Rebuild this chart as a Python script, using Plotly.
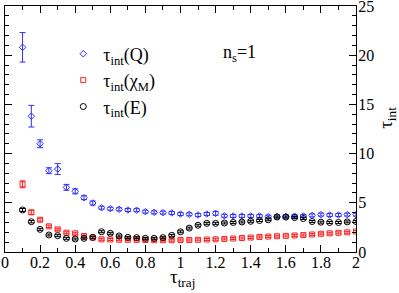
import plotly.graph_objects as go

tau_traj = [round(0.1 + 0.05 * i, 2) for i in range(39)]

tau_Q = [20.8, 13.8, 11.0, 8.26, 8.43, 6.57, 6.17, 5.52, 4.98, 4.50,
         4.40, 4.34, 4.27, 4.25, 4.10, 4.03, 4.00, 3.97, 3.86, 3.83,
         3.76, 3.86, 3.93, 3.68, 3.66, 3.66, 3.66, 3.66, 3.59, 3.62,
         3.62, 3.64, 3.66, 3.72, 3.80, 3.76, 3.76, 3.80, 3.80]
err_Q = [1.5, 1.1, 0.4, 0.3, 0.55, 0.3, 0.25, 0.2, 0.2, 0.15,
         0.15, 0.15, 0.15, 0.15, 0.15, 0.15, 0.15, 0.15, 0.15, 0.15,
         0.15, 0.15, 0.2, 0.15, 0.15, 0.15, 0.15, 0.15, 0.15, 0.15,
         0.15, 0.15, 0.15, 0.15, 0.15, 0.15, 0.15, 0.15, 0.15]

tau_chi = [6.88, 4.03, 3.28, 2.61, 2.30, 1.96, 1.90, 1.63, 1.46, 1.29,
           1.27, 1.25, 1.24, 1.23, 1.22, 1.20, 1.20, 1.20, 1.22, 1.22,
           1.24, 1.27, 1.29, 1.33, 1.37, 1.42, 1.47, 1.53, 1.57, 1.60,
           1.64, 1.68, 1.72, 1.78, 1.85, 1.90, 1.95, 2.00, 2.08]
err_chi = [0.35, 0.2, 0.15, 0.12, 0.1, 0.1, 0.1, 0.1, 0.1, 0.1,
           0.1, 0.1, 0.1, 0.1, 0.1, 0.1, 0.1, 0.1, 0.1, 0.1,
           0.1, 0.1, 0.1, 0.1, 0.1, 0.1, 0.1, 0.1, 0.1, 0.1,
           0.1, 0.1, 0.1, 0.1, 0.1, 0.1, 0.1, 0.1, 0.1]

tau_E = [4.27, 3.08, 2.30, 1.73, 1.66, 1.39, 1.32, 1.39, 1.49, 2.06,
         1.90, 1.63, 1.49, 1.46, 1.39, 1.39, 1.46, 1.69, 2.05, 2.43,
         2.72, 2.91, 2.91, 2.95, 3.00, 3.05, 3.12, 3.20, 3.28, 3.55,
         3.55, 3.50, 3.40, 3.10, 3.03, 3.00, 3.00, 3.06, 3.10]
err_E = [0.15, 0.12, 0.1, 0.1, 0.1, 0.1, 0.1, 0.1, 0.1, 0.1,
         0.1, 0.1, 0.1, 0.1, 0.1, 0.1, 0.1, 0.1, 0.1, 0.1,
         0.1, 0.1, 0.1, 0.1, 0.1, 0.1, 0.1, 0.1, 0.1, 0.1,
         0.1, 0.1, 0.1, 0.1, 0.1, 0.1, 0.1, 0.1, 0.1]

FONT = "Liberation Serif"
BLUE = "#3030ff"
RED = "#ff2020"
BLACK = "#000000"

fig = go.Figure()

def add(y, err, name, symbol, size, color):
    fig.add_trace(go.Scatter(
        x=tau_traj, y=y, mode="markers", name=name,
        marker=dict(symbol=symbol, size=size, color=color, line=dict(width=1, color=color)),
        error_y=dict(type="data", array=err, visible=True, color=color, thickness=1, width=3),
    ))

add(tau_Q, err_Q, "τ<sub>int</sub>(Q)", "diamond-open", 5, BLUE)
add(tau_chi, err_chi, "τ<sub>int</sub>(χ<sub>M</sub>)", "square-open", 5, RED)
add(tau_E, err_E, "τ<sub>int</sub>(E)", "circle-open", 6, BLACK)

axis_common = dict(
    showline=True, linecolor="black", linewidth=1, mirror="ticks",
    ticks="inside", tickcolor="black", ticklen=7, tickwidth=1,
    showgrid=False, zeroline=False, automargin=False,
    ticklabeloverflow="allow",
    tickfont=dict(family=FONT, size=16, color="black"),
)

fig.update_layout(
    width=399, height=293,
    margin=dict(l=5, r=43, t=6, b=41),
    paper_bgcolor="white", plot_bgcolor="white",
    font=dict(family=FONT, color="black"),
    showlegend=True,
    legend=dict(x=0.166, y=0.880, xanchor="left", yanchor="top",
                bgcolor="rgba(0,0,0,0)", font=dict(family=FONT, size=18),
                itemwidth=30, tracegroupgap=0),
    xaxis=dict(range=[0, 2], dtick=0.2, tick0=0, ticklabelstandoff=-4,
               minor=dict(dtick=0.1, ticklen=4, ticks="inside", tickcolor="black"),
               **axis_common),
    yaxis=dict(range=[0, 25], dtick=5, tick0=0, side="right", ticklabelstandoff=-2,
               minor=dict(dtick=1, ticklen=4, ticks="inside", tickcolor="black"),
               **axis_common),
    annotations=[
        dict(x=0.615, y=0.805, xref="paper", yref="paper", xanchor="left", yanchor="middle",
             text="n<sub>s</sub>=1", showarrow=False,
             font=dict(family=FONT, size=18, color="black")),
        dict(x=0.507, y=-0.106, xref="paper", yref="paper", xanchor="center", yanchor="middle",
             text="τ<sub>traj</sub>", showarrow=False,
             font=dict(family=FONT, size=19, color="black")),
        dict(x=1.088, y=0.545, xref="paper", yref="paper", xanchor="center", yanchor="middle",
             text="τ<sub>int</sub>", showarrow=False, textangle=-90,
             font=dict(family=FONT, size=19, color="black")),
    ],
)

fig.write_html("out.html", config={"displayModeBar": False},
               post_script="document.body.style.margin='0px';")
